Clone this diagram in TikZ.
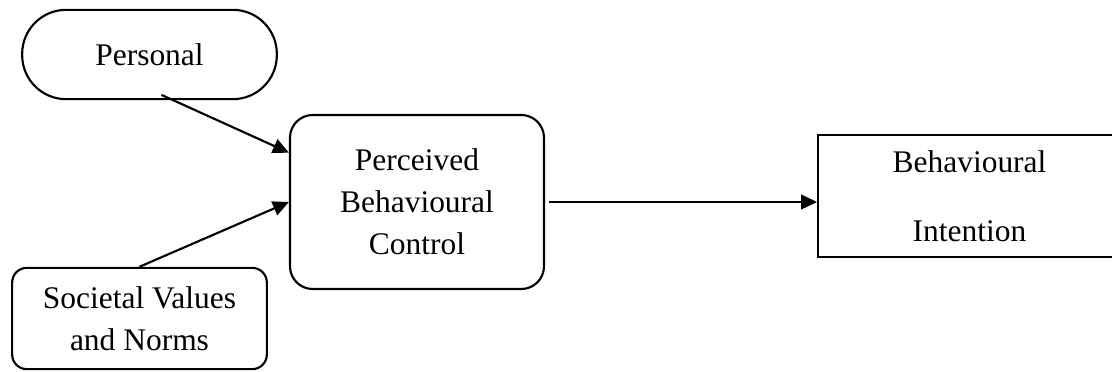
\documentclass[tikz,border=0pt]{standalone}
\usepackage{fontspec}
\setmainfont{Liberation Serif}
\usetikzlibrary{arrows.meta,positioning}
\tikzset{
  factor/.style={draw, line width=1.6pt, align=center, inner sep=0pt,
    font=\fontsize{23.6}{31.5}\selectfont},
  link/.style={line width=1.6pt, -{Triangle[length=12pt,width=11pt]}}
}
\begin{document}
\begin{tikzpicture}[x=0.75pt,y=-0.75pt]
  \useasboundingbox (0,0) rectangle (1112,371);
  \node [factor, rounded corners=33pt, minimum width=191pt, minimum height=67pt] (personal) at (149.5,54.5) {Personal};
  \node [factor, rounded corners=17pt, minimum width=190.5pt, minimum height=130.5pt] (pbc) at (417,202) {Perceived\\Behavioural\\Control};
  \node [factor, rounded corners=11pt, minimum width=191pt, minimum height=76pt] (societal) at (139.5,318.5) {Societal Values\\and Norms};
  \node [factor, minimum width=227pt, minimum height=91.5pt] (intention) at (969.5,196) {Behavioural\\[20pt]Intention};
  % links into the central factor
  \draw [link] ([xshift=9pt,yshift=4pt]personal.south) -- ([yshift=37pt]pbc.west);
  \draw [link] (societal.north) -- (pbc.west);
  \draw [link] ([xshift=3pt]pbc.east) -- (pbc.east -| intention.west);
\end{tikzpicture}
\end{document}
